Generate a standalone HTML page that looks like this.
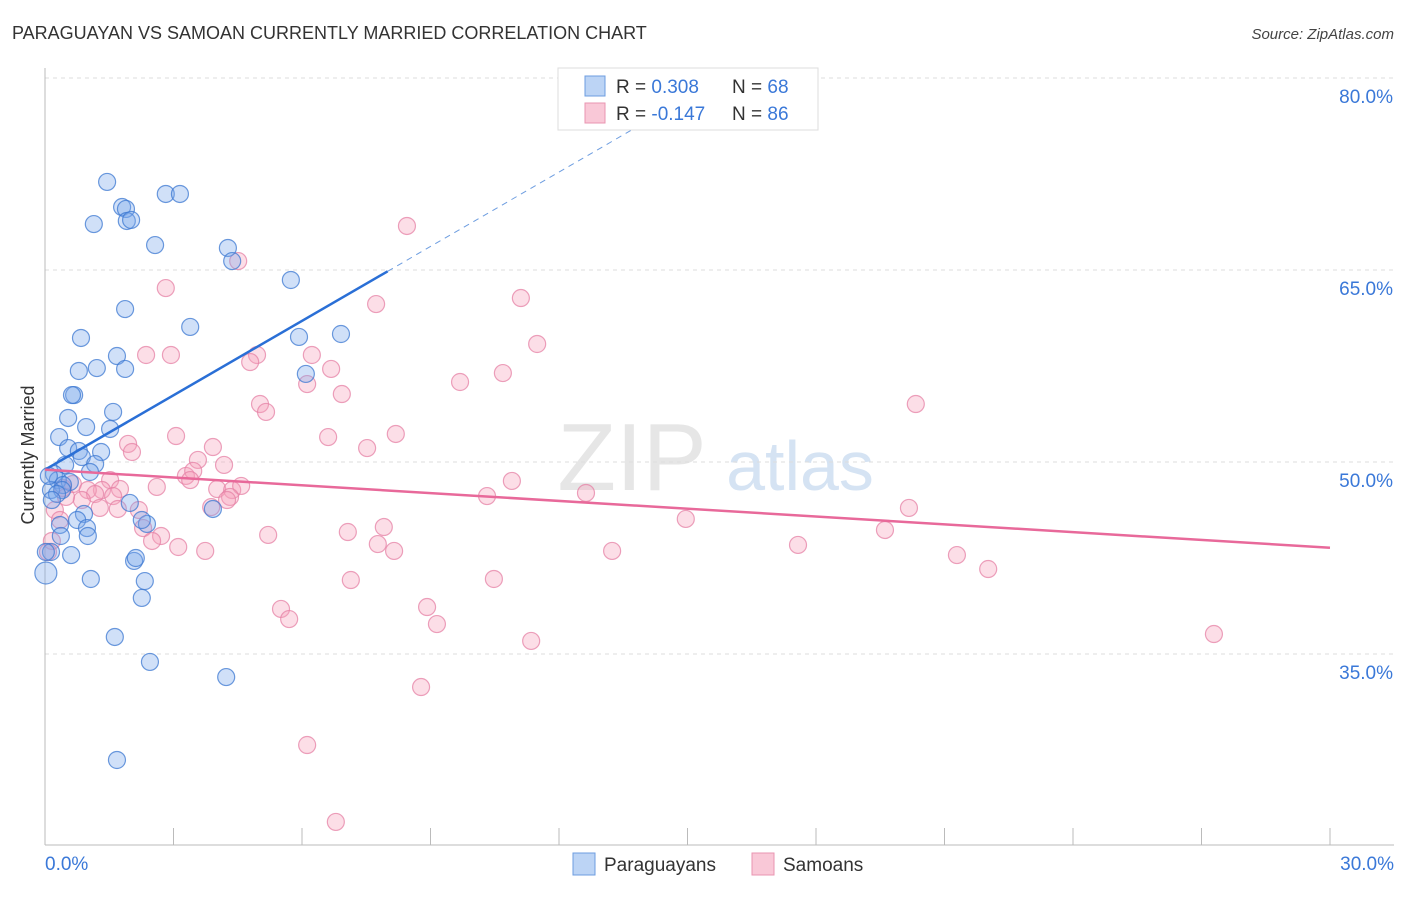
<!DOCTYPE html>
<html><head><meta charset="utf-8"><style>
body{margin:0;background:#fff;font-family:"Liberation Sans",sans-serif}
svg text{font-family:"Liberation Sans",sans-serif}
</style></head><body>
<svg width="1406" height="892">
<text x="12" y="39" font-size="18" fill="#333">PARAGUAYAN VS SAMOAN CURRENTLY MARRIED CORRELATION CHART</text>
<text x="1394" y="39" font-size="15" fill="#444" text-anchor="end" font-style="italic">Source: ZipAtlas.com</text>
<text x="632" y="490" font-size="96" fill="#e6e6e6" font-family="Liberation Serif" text-anchor="middle">ZIP</text>
<text x="800" y="490" font-size="70" fill="#d5e3f3" text-anchor="middle">atlas</text>
<g id="grid"></g><g id="axes"></g><g id="pts"></g><g id="lines"></g>
<text transform="translate(34,455) rotate(-90)" font-size="18" fill="#333" text-anchor="middle">Currently Married</text>
<g>
<rect x="558" y="68" width="260" height="62" fill="#fff" stroke="#ddd"/>
<rect x="585" y="76" width="20" height="20" fill="#bcd4f5" stroke="#6d9de0"/>
<rect x="585" y="103" width="20" height="20" fill="#f9c8d7" stroke="#e995b0"/>
<text x="616" y="93" font-size="19" fill="#333">R = <tspan fill="#3a78d8">0.308</tspan><tspan x="732">N = </tspan><tspan fill="#3a78d8">68</tspan></text>
<text x="616" y="120" font-size="19" fill="#333">R = <tspan fill="#3a78d8">-0.147</tspan><tspan x="732">N = </tspan><tspan fill="#3a78d8">86</tspan></text>
</g>
<g>
<rect x="573" y="853" width="22" height="22" fill="#bcd4f5" stroke="#6d9de0"/>
<text x="604" y="871" font-size="19" fill="#333">Paraguayans</text>
<rect x="752" y="853" width="22" height="22" fill="#f9c8d7" stroke="#e995b0"/>
<text x="783" y="871" font-size="19" fill="#333">Samoans</text>
</g>
</svg>
<script>
const yTicks=[80,65,50,35];
const xTickLabels=["0.0%","30.0%"];
const bluePx=[[107,182],[166,194],[180,194],[122,207],[126,209],[94,224],[127,221],[131,220],[155,245],[228,248],[232,261],[291,280],[125,309],[190,327],[299,337],[341,334],[81,338],[117,356],[97,368],[125,369],[79,371],[306,374],[74,395],[72,395],[113,412],[68,418],[86,427],[110,429],[59,437],[68,448],[79,451],[101,452],[82,457],[95,464],[65,465],[54,474],[90,472],[58,480],[70,482],[63,485],[51,490],[62,490],[57,494],[84,514],[77,520],[60,525],[87,528],[147,524],[142,520],[130,503],[213,509],[88,536],[61,536],[51,552],[71,555],[134,561],[136,558],[46,573],[91,579],[145,581],[142,598],[115,637],[150,662],[226,677],[117,760],[49,476],[52,500],[46,552]];
const pinkPx=[[407,226],[238,261],[166,288],[376,304],[521,298],[537,344],[146,355],[171,355],[257,355],[250,362],[312,355],[307,384],[331,369],[460,382],[503,373],[342,394],[260,404],[266,412],[916,404],[176,436],[328,437],[396,434],[128,444],[213,447],[367,448],[132,452],[198,460],[224,465],[186,476],[193,471],[190,480],[157,487],[110,480],[120,489],[102,490],[73,484],[63,488],[88,490],[217,489],[232,490],[241,486],[230,497],[227,500],[487,496],[512,481],[586,493],[113,496],[95,494],[82,500],[66,497],[55,510],[100,508],[118,509],[139,510],[211,507],[686,519],[909,508],[885,530],[143,528],[161,536],[152,541],[268,535],[348,532],[384,527],[378,544],[394,551],[178,547],[205,551],[612,551],[798,545],[957,555],[988,569],[351,580],[494,579],[281,609],[289,619],[427,607],[437,624],[531,641],[1214,634],[421,687],[307,745],[336,822],[52,541],[48,552],[60,520]];
// data values (x %, y %)
const blueX=bluePx.map(p=>+((p[0]-45)/1285*30).toFixed(2));
const blueY=bluePx.map(p=>+(80-(p[1]-78)/12.8).toFixed(2));
const pinkX=pinkPx.map(p=>+((p[0]-45)/1285*30).toFixed(2));
const pinkY=pinkPx.map(p=>+(80-(p[1]-78)/12.8).toFixed(2));
const blueTrend=[[0,49.4],[8.0,64.9]];
const pinkTrend=[[0,49.4],[30,43.3]];
const NS="http://www.w3.org/2000/svg";
const X=v=>45+v/30*1285, Y=v=>78+(80-v)*12.8;
function mk(t,a,p){const e=document.createElementNS(NS,t);for(const k in a)e.setAttribute(k,a[k]);document.getElementById(p).appendChild(e);return e;}
yTicks.forEach(t=>{
 const l=mk('line',{x1:45,x2:1394,y1:Y(t),y2:Y(t),stroke:'#ddd','stroke-dasharray':'4,4'},'grid');
 
 
 const tx=mk('text',{x:1393,y:Y(t)+25,'font-size':19,fill:'#3a78d8','text-anchor':'end'},'grid');
 tx.textContent=t.toFixed(1)+'%';
 
 
});
mk('line',{x1:45,x2:45,y1:68,y2:845,stroke:'#bbb'},'axes');
mk('line',{x1:45,x2:1394,y1:845,y2:845,stroke:'#bbb'},'axes');
for(let i=0;i<=10;i++){const t=mk('line',{x1:X(i*3),x2:X(i*3),y1:828,y2:845,stroke:'#bbb'},'axes');
 
 }
[[0,'start',45],[1,'end',1394]].forEach(([i,a,x])=>{const t=mk('text',{x:x,y:870,'font-size':19,fill:'#3a78d8','text-anchor':a},'axes');t.textContent=xTickLabels[i];
 
 });
function dots(xs,ys,fill,stroke,name){xs.forEach((x,i)=>{const c=mk('circle',{cx:X(x),cy:Y(ys[i]),r:(i===57&&name==='paraguayan-point')?11:8.5,fill:fill,stroke:stroke,'stroke-width':1.2},'pts');
 
 });}
dots(pinkX,pinkY,'rgba(245,160,185,0.35)','rgba(230,130,165,0.75)','samoan-point');
dots(blueX,blueY,'rgba(120,165,235,0.35)','rgba(60,120,210,0.75)','paraguayan-point');
const bl=mk('line',{x1:X(blueTrend[0][0]),y1:Y(blueTrend[0][1]),x2:X(blueTrend[1][0]),y2:Y(blueTrend[1][1]),stroke:'#2a6fd6','stroke-width':2.5},'lines');


const slope=(blueTrend[1][1]-blueTrend[0][1])/(blueTrend[1][0]-blueTrend[0][0]);
const bd=mk('line',{x1:X(blueTrend[1][0]),y1:Y(blueTrend[1][1]),x2:X(15.7),y2:Y(blueTrend[0][1]+slope*15.7),stroke:'#6d9de0','stroke-width':1,'stroke-dasharray':'6,5'},'lines');


const pl=mk('line',{x1:X(pinkTrend[0][0]),y1:Y(pinkTrend[0][1]),x2:X(pinkTrend[1][0]),y2:Y(pinkTrend[1][1]),stroke:'#e8699a','stroke-width':2.5},'lines');


</script>
</body></html>
